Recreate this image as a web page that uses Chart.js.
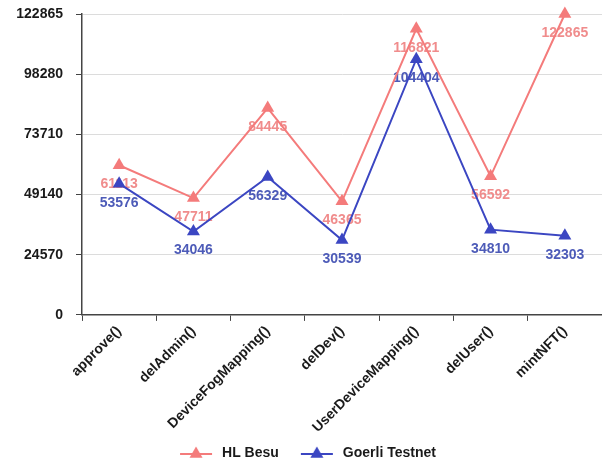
<!DOCTYPE html>
<html>
<head>
<meta charset="utf-8">
<script src="https://cdn.jsdelivr.net/npm/chart.js@4/dist/chart.umd.min.js"></script>
<style>
  html, body { margin: 0; padding: 0; background: #ffffff; }
  #wrap { width: 602px; height: 462px; }
</style>
</head>
<body>
<div id="wrap"><canvas id="chart" width="602" height="462"></canvas></div>
<script>
// Gas used per contract function on each network
const categories = ['approve()', 'delAdmin()', 'DeviceFogMapping()', 'delDev()', 'UserDeviceMapping()', 'delUser()', 'mintNFT()'];
const hlBesu = [61113, 47711, 84445, 46365, 116821, 56592, 122865];
const goerliTestnet = [53576, 34046, 56329, 30539, 104404, 34810, 32303];
const yTickLabels = ['0', '24570', '49140', '73710', '98280', '122865'];

const FONT = "'Liberation Sans', Arial, sans-serif";
const RED = '#f47b7b';
const RED_LABEL = '#f08c8c';
const BLUE = '#3b46c2';
const BLUE_LABEL = '#4d5bb8';

// Legend icon: short line with a triangle marker in the middle,
// with some blank room on the left to separate the entries
function legendIcon(color) {
  const lead = 14, len = 32, tail = 3;
  const c = document.createElement('canvas');
  c.width = lead + len + tail; c.height = 16;
  const g = c.getContext('2d');
  g.strokeStyle = color;
  g.lineWidth = 2;
  g.beginPath(); g.moveTo(lead, 9); g.lineTo(lead + len, 9); g.stroke();
  const r = 7.5, cx = lead + len / 2, cy = 9;
  g.fillStyle = color;
  g.beginPath();
  for (let i = 0; i < 3; i++) {
    const a = i * 2 * Math.PI / 3;
    const px = cx + Math.sin(a) * r, py = cy - Math.cos(a) * r;
    if (i === 0) g.moveTo(px, py); else g.lineTo(px, py);
  }
  g.closePath(); g.fill();
  return c;
}
const icons = [legendIcon(RED), legendIcon(BLUE)];

// Value labels under each point, painted beneath the lines
const valueLabels = {
  id: 'valueLabels',
  beforeDatasetsDraw(chart) {
    const ctx = chart.ctx;
    ctx.save();
    ctx.font = 'bold 14px ' + FONT;
    ctx.textAlign = 'center';
    ctx.textBaseline = 'middle';
    chart.data.datasets.forEach((ds, i) => {
      const meta = chart.getDatasetMeta(i);
      ctx.fillStyle = ds.labelColor;
      meta.data.forEach((pt, j) => {
        ctx.fillText(String(ds.data[j]), pt.x, pt.y + 19);
      });
    });
    ctx.restore();
  }
};

new Chart(document.getElementById('chart'), {
  type: 'line',
  data: {
    labels: categories,
    datasets: [
      {
        label: 'HL Besu',
        data: hlBesu,
        borderColor: RED,
        backgroundColor: RED,
        borderWidth: 2,
        pointStyle: 'triangle',
        pointRadius: 7.5,
        pointBorderWidth: 0,
        labelColor: RED_LABEL,
        order: 2,
        clip: false,
        tension: 0
      },
      {
        label: 'Goerli Testnet',
        data: goerliTestnet,
        borderColor: BLUE,
        backgroundColor: BLUE,
        borderWidth: 2,
        pointStyle: 'triangle',
        pointRadius: 7.5,
        pointBorderWidth: 0,
        labelColor: BLUE_LABEL,
        order: 1,
        clip: false,
        tension: 0
      }
    ]
  },
  options: {
    responsive: false,
    animation: false,
    devicePixelRatio: 1,
    layout: { autoPadding: false, padding: { left: 0, top: 14, right: 0, bottom: -8 } },
    plugins: {
      tooltip: { enabled: false },
      legend: {
        position: 'bottom',
        labels: {
          usePointStyle: true,
          pointStyleWidth: icons[0].width,
          padding: 8,
          color: '#1a1a1a',
          font: { family: FONT, size: 14, weight: 'bold' },
          sort: (a, b) => a.datasetIndex - b.datasetIndex,
          generateLabels(chart) {
            const items = Chart.defaults.plugins.legend.labels.generateLabels(chart);
            items.forEach(it => { it.pointStyle = icons[it.datasetIndex]; });
            return items;
          }
        }
      }
    },
    scales: {
      x: {
        offset: true,
        afterFit(scale) { scale.paddingLeft = 0; scale.paddingRight = 0; },
        grid: {
          offset: true,
          drawOnChartArea: false,
          drawTicks: true,
          tickLength: 6,
          tickColor: '#444'
        },
        border: { color: '#444', width: 1.5 },
        ticks: {
          minRotation: 45,
          maxRotation: 45,
          autoSkip: false,
          padding: 2,
          color: '#1a1a1a',
          font: { family: FONT, size: 14, weight: 'bold' }
        }
      },
      y: {
        min: 0,
        max: Number(yTickLabels[yTickLabels.length - 1]),
        afterBuildTicks(scale) {
          scale.ticks = yTickLabels.map(t => ({ value: Number(t) }));
        },
        afterFit(scale) { scale.width = 82; scale.paddingTop = 0; scale.paddingBottom = 0; },
        grid: {
          color: '#dcdcdc',
          lineWidth: 1,
          drawTicks: true,
          tickLength: 6,
          tickColor: '#444'
        },
        border: { color: '#444', width: 1.5 },
        ticks: {
          padding: 13,
          color: '#1a1a1a',
          font: { family: FONT, size: 14, weight: 'bold' },
          callback(value, index) { return yTickLabels[index]; }
        }
      }
    }
  },
  plugins: [valueLabels]
});
</script>
</body>
</html>
